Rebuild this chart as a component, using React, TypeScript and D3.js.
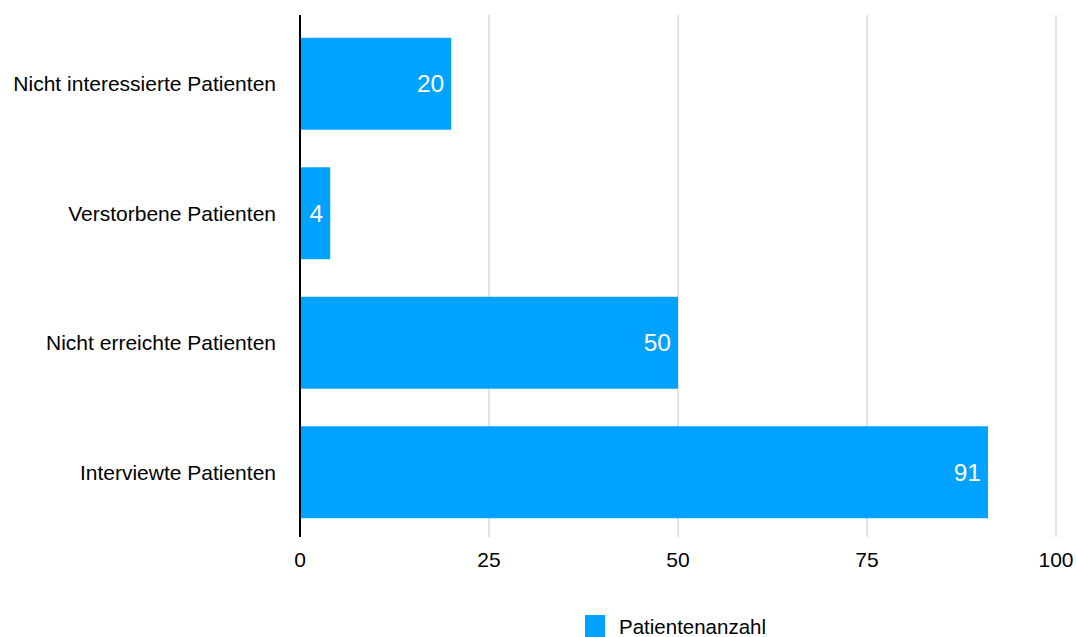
import React from "react";
import * as d3 from "d3";

const categories = [
  "Nicht interessierte Patienten",
  "Verstorbene Patienten",
  "Nicht erreichte Patienten",
  "Interviewte Patienten",
];
const values = [20, 4, 50, 91];
const ticks = [0, 25, 50, 75, 100];
const seriesName = "Patientenanzahl";

const W = 1076;
const H = 637;
const FONT = "'Liberation Sans', Arial, Helvetica, sans-serif";
const BLUE = "#00A2FF";

export default function App() {
  const x = d3.scaleLinear().domain([0, 100]).range([300, 1056]);
  const y = d3
    .scaleBand<string>()
    .domain(categories)
    .range([19, 537])
    .paddingInner(0.29)
    .paddingOuter(0.145);
  return (
    <svg
      width={W}
      height={H}
      style={{ position: "absolute", left: 0, top: 0, background: "#fff" }}
      fontFamily={FONT}
    >
      {ticks.map((t) =>
        t === 0 ? null : (
          <line key={"g" + t} x1={x(t)} x2={x(t)} y1={15} y2={537} stroke="#d0d0d0" strokeWidth={1.2} />
        )
      )}
      {categories.map((c, i) => (
        <g key={c}>
          <rect x={x(0)} y={y(c)!} width={x(values[i]) - x(0)} height={y.bandwidth()} fill={BLUE} />
          <text
            x={x(values[i]) - 7}
            y={y(c)! + y.bandwidth() / 2}
            dy="0.35em"
            textAnchor="end"
            fill="#fff"
            fontSize={24.5}
          >
            {values[i]}
          </text>
          <text
            x={276}
            y={y(c)! + y.bandwidth() / 2}
            dy="0.35em"
            textAnchor="end"
            fill="#000"
            fontSize={21}
          >
            {c}
          </text>
        </g>
      ))}
      <line x1={x(0)} x2={x(0)} y1={15} y2={537} stroke="#000" strokeWidth={2} />
      {ticks.map((t) => (
        <text key={"t" + t} x={x(t)} y={560} dy="0.35em" textAnchor="middle" fontSize={21} fill="#000">
          {t}
        </text>
      ))}
      <rect x={585} y={615} width={20} height={22} fill={BLUE} />
      <text x={619} y={627} dy="0.35em" fontSize={20.5} fill="#000">
        {seriesName}
      </text>
    </svg>
  );
}
